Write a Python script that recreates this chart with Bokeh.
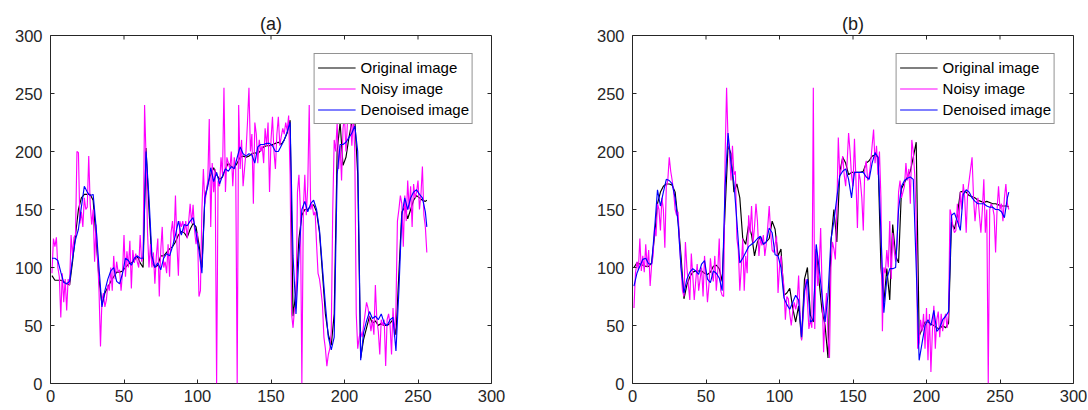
from bokeh.plotting import figure
from bokeh.layouts import row
from bokeh.models import FixedTicker, Legend, LegendItem, Range1d
from bokeh.embed import file_html
from bokeh.resources import INLINE

FONT = "Liberation Sans"
AX = "#262626"

ticks = [0, 50, 100, 150, 200, 250, 300]
series_names = ["Original image", "Noisy image", "Denoised image"]
titles = ["(a)", "(b)"]

# sample indices
x_noisy = list(range(1, 257))
x_smooth = list(range(1, 256, 2)) + [256]

# ---------------- panel (a) ----------------
orig_a = [93, 89, 89, 89, 88, 86, 85, 105, 128, 150,
          160, 163, 163, 163, 158, 125, 90, 68, 78, 83,
          88, 92, 96, 96, 97, 100, 103, 104, 106, 110,
          104, 100, 203, 150, 105, 100, 102, 110, 110, 113,
          116, 118, 122, 128, 131, 130, 126, 133, 138, 135,
          120, 100, 160, 172, 180, 186, 180, 176, 178, 185,
          190, 187, 186, 190, 195, 196, 195, 196, 198, 199,
          198, 201, 204, 205, 205, 206, 207, 208, 206, 210,
          216, 227, 58, 80, 125, 145, 150, 150, 153, 154,
          148, 130, 95, 60, 42, 33, 60, 200, 225, 188,
          195, 212, 225, 228, 180, 22, 38, 48, 58, 52,
          54, 50, 52, 50, 50, 52, 55, 42, 95, 148,
          152, 142, 150, 158, 162, 160, 158, 157,
          158]
noisy_a = [95, 125, 118, 126, 100, 92, 57, 95, 70, 90,
           63, 90, 85, 128, 110, 126, 128, 200, 199, 138,
           148, 135, 160, 150, 152, 196, 155, 137, 150, 105,
           137, 110, 80, 32, 72, 78, 66, 72, 85, 80,
           100, 80, 110, 90, 105, 96, 98, 80, 96, 128,
           92, 114, 100, 123, 82, 115, 104, 112, 105, 100,
           128, 105, 110, 240, 195, 130, 100, 120, 100, 113,
           86, 110, 125, 75, 115, 135, 100, 105, 95, 120,
           92, 130, 140, 122, 162, 120, 93, 140, 135, 140,
           130, 140, 125, 140, 155, 138, 154, 132, 120, 130,
           75, 80, 150, 185, 155, 165, 175, 228, 135, 190,
           165, 185, 0, 175, 170, 195, 180, 255, 165, 195,
           190, 185, 200, 170, 195, 185, 0, 240, 185, 210,
           170, 185, 200, 225, 255, 200, 215, 155, 225, 215,
           190, 210, 200, 205, 190, 220, 205, 225, 165, 210,
           230, 200, 185, 215, 230, 205, 213, 220, 215, 225,
           218, 231, 180, 60, 48, 65, 65, 165, 180, 150,
           0, 150, 180, 145, 170, 240, 150, 155, 145, 148,
           120, 95, 90, 80, 68, 40, 30, 15, 25, 30,
           45, 150, 210, 200, 225, 185, 205, 175, 220, 230,
           200, 225, 228, 230, 205, 230, 200, 60, 30, 40,
           45, 40, 50, 60, 70, 65, 55, 45, 55, 42,
           85, 55, 45, 25, 55, 50, 55, 15, 55, 60,
           50, 25, 65, 40, 65, 140, 150, 162, 155, 118,
           162, 140, 175, 150, 170, 135, 172, 160, 165, 175,
           150, 163, 187, 145, 135, 113]
den_a = [108, 108, 106, 96, 87, 86, 88, 108, 124, 133,
         152, 170, 165, 162, 163, 135, 100, 66, 80, 90,
         97, 100, 88, 86, 95, 108, 106, 102, 108, 110,
         108, 108, 200, 160, 110, 100, 104, 98, 108, 112,
         110, 118, 128, 140, 128, 137, 136, 140, 143, 130,
         115, 95, 160, 170, 186, 174, 182, 172, 179, 185,
         183, 187, 185, 195, 204, 198, 196, 198, 197, 190,
         204, 206, 206, 207, 207, 205, 200, 200, 205, 210,
         217, 225, 110, 60, 110, 150, 157, 148, 155, 158,
         150, 132, 100, 68, 40, 29, 40, 180, 206, 206,
         208, 212, 216, 222, 200, 20, 44, 54, 62, 56,
         58, 55, 60, 52, 50, 55, 57, 28, 80, 145,
         160, 150, 160, 165, 167, 163, 160, 148,
         135]

# ---------------- panel (b) ----------------
orig_b = [100, 104, 103, 102, 101, 101, 104, 127, 155, 165,
          170, 172, 172, 171, 165, 140, 110, 73, 85, 92,
          96, 97, 97, 97, 95, 94, 96, 101, 102, 99,
          88, 150, 205, 198, 165, 172, 160, 125, 120, 137,
          128, 110, 122, 127, 120, 122, 125, 140, 133, 110,
          116, 76, 78, 82, 65, 53, 67, 38, 90, 100,
          59, 53, 116, 87, 62, 50, 22, 122, 150, 122,
          182, 195, 190, 180, 182, 182, 182, 182, 183, 190,
          192, 196, 197, 195, 100, 70, 99, 72, 137, 110,
          104, 168, 173, 178, 183, 195, 208, 41, 47, 53,
          53, 51, 50, 48, 47, 50, 48, 52, 139, 133,
          145, 165, 166, 165, 162, 161, 160, 158, 157, 156,
          157, 156, 155, 155, 154, 153, 153, 153,
          152]
noisy_b = [65, 95, 105, 98, 125, 97, 110, 96, 120, 100,
           115, 84, 102, 110, 135, 127, 155, 150, 132, 160,
           150, 117, 170, 175, 195, 183, 175, 165, 150, 145,
           148, 120, 100, 80, 75, 122, 100, 85, 72, 112,
           93, 72, 88, 103, 80, 90, 100, 75, 110, 92,
           70, 85, 108, 95, 88, 110, 80, 97, 125, 80,
           76, 75, 195, 255, 210, 200, 175, 205, 180, 183,
           125, 115, 80, 100, 125, 80, 110, 95, 145, 130,
           153, 121, 135, 155, 140, 110, 125, 119, 128, 110,
           120, 135, 153, 130, 115, 113, 120, 127, 78, 100,
           110, 95, 84, 55, 75, 73, 60, 50, 62, 70,
           64, 70, 93, 60, 37, 55, 75, 90, 70, 47,
           55, 48, 255, 47, 119, 84, 100, 134, 80, 27,
           60, 78, 40, 22, 100, 122, 116, 107, 150, 212,
           179, 185, 196, 180, 170, 190, 216, 200, 179, 170,
           211, 175, 134, 182, 175, 160, 132, 185, 192, 175,
           179, 190, 205, 219, 190, 205, 180, 200, 160, 45,
           100, 95, 115, 100, 140, 90, 130, 115, 105, 120,
           165, 175, 160, 165, 170, 190, 175, 185, 155, 210,
           200, 180, 140, 30, 35, 55, 45, 60, 30, 65,
           20, 60, 10, 45, 67, 30, 55, 62, 40, 60,
           45, 55, 60, 48, 60, 150, 145, 135, 130, 132,
           155, 135, 165, 150, 172, 160, 130, 165, 175, 185,
           195, 160, 140, 155, 160, 145, 130, 150, 176, 130,
           150, 0, 150, 155, 152, 145, 113, 150, 170, 150,
           155, 140, 160, 172, 155, 150]
den_b = [84, 95, 101, 107, 108, 103, 103, 133, 167, 153,
         165, 176, 175, 172, 160, 139, 100, 78, 90, 96,
         99, 97, 94, 103, 106, 90, 87, 97, 95, 91,
         80, 170, 216, 190, 173, 140, 104, 108, 113, 118,
         120, 122, 125, 127, 120, 122, 134, 130, 111, 110,
         100, 74, 68, 64, 70, 76, 72, 40, 80, 90,
         53, 55, 120, 99, 75, 53, 76, 124, 140, 160,
         179, 183, 185, 176, 160, 182, 182, 182, 182, 178,
         176, 190, 199, 195, 130, 61, 90, 99, 99, 100,
         150, 170, 175, 177, 178, 176, 100, 20, 35, 50,
         55, 50, 63, 45, 48, 55, 58, 62, 145, 147,
         140, 132, 163, 167, 165, 160, 157, 155, 155, 155,
         153, 152, 152, 150, 150, 148, 143, 160,
         165]

for arr in (orig_a, den_a, orig_b, den_b):
    assert len(arr) == len(x_smooth), len(arr)
for arr in (noisy_a, noisy_b):
    assert len(arr) == len(x_noisy), len(arr)


def style_axis(ax):
    ax.ticker = FixedTicker(ticks=ticks)
    ax.axis_line_color = None
    ax.major_tick_line_color = AX
    ax.major_tick_line_width = 1
    ax.major_tick_in = 4
    ax.major_tick_out = 0
    ax.minor_tick_line_color = None
    ax.major_label_text_font = FONT
    ax.major_label_text_font_size = "16.5px"
    ax.major_label_text_color = AX


def panel(title, orig, noisy, den, left, right):
    p = figure(frame_width=441, frame_height=348,
               min_border_left=left, min_border_right=right,
               min_border_top=35, min_border_bottom=27,
               x_range=Range1d(0, 300), y_range=Range1d(0, 300),
               output_backend="svg", toolbar_location=None, title=title)
    p.title.align = "center"
    p.title.text_font = FONT
    p.title.text_font_size = "18px"
    p.title.text_font_style = "normal"
    p.title.text_color = "#1a1a1a"
    p.title.standoff = 3
    p.xgrid.visible = False
    p.ygrid.visible = False
    p.outline_line_color = AX
    p.outline_line_width = 1
    p.outline_line_alpha = 1
    p.background_fill_color = "white"
    p.border_fill_color = "white"

    style_axis(p.xaxis[0])
    p.xaxis[0].major_label_standoff = 6
    style_axis(p.yaxis[0])
    p.yaxis[0].major_label_standoff = 8

    # inward tick marks on the top and right edges of the box
    n = len(ticks)
    p.ray(x=ticks, y=[300] * n, length=4, length_units="screen",
          angle=-90, angle_units="deg", line_color=AX, line_width=1)
    p.ray(x=[300] * n, y=ticks, length=4, length_units="screen",
          angle=180, angle_units="deg", line_color=AX, line_width=1)

    r1 = p.line(x_smooth, orig, line_color="#000000", line_width=1.15)
    r2 = p.line(x_noisy, noisy, line_color="#FF00FF", line_width=1.15)
    r3 = p.line(x_smooth, den, line_color="#0000FF", line_width=1.15)

    legend = Legend(items=[LegendItem(label=series_names[0], renderers=[r1]),
                           LegendItem(label=series_names[1], renderers=[r2]),
                           LegendItem(label=series_names[2], renderers=[r3])],
                    location="top_right", margin=18, padding=3, spacing=0,
                    glyph_width=38, glyph_height=21, label_height=21,
                    label_standoff=5,
                    label_text_font=FONT, label_text_font_size="15px",
                    label_text_color="#000000",
                    border_line_color=AX, border_line_width=1,
                    background_fill_color="white", background_fill_alpha=1)
    p.add_layout(legend)
    return p


pa = panel(titles[0], orig_a, noisy_a, den_a, 50, 57)
pb = panel(titles[1], orig_b, noisy_b, den_b, 84, 14)
layout = row(pa, pb)

open("out.html", "w").write(file_html(layout, INLINE))
